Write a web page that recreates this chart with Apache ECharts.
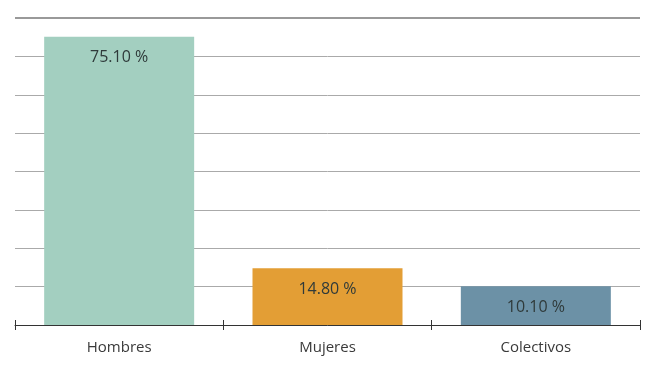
<!DOCTYPE html>
<html>
<head>
<meta charset="utf-8">
<script src="https://cdn.jsdelivr.net/npm/echarts@6/dist/echarts.min.js"></script>
<style>
  html, body { margin: 0; padding: 0; background: #fff; }
  #chart { width: 650px; height: 375px; }
</style>
</head>
<body>
<div id="chart"></div>
<script>
const categories = ['Hombres', 'Mujeres', 'Colectivos']
const values = [75.10, 14.80, 10.10]
const barColors = ['#a3cfc0', '#e39e35', '#6c91a6']

const chart = echarts.init(document.getElementById('chart'))

const option = {
  animation: false,
  grid: { left: 15, right: 10, top: 18, bottom: 50 },
  xAxis: [
    {
      type: 'category',
      data: categories,
      axisLine: { lineStyle: { color: '#333', width: 1 } },
      axisTick: { show: true, length: 5, lineStyle: { color: '#333' } },
      axisLabel: {
        color: '#3a3a3a',
        fontFamily: 'Open Sans',
        fontSize: 15,
        margin: 15
      }
    },
    {
      // kleine Striche nach innen, damit die Ticks das Achsenlinie kreuzen
      type: 'category',
      data: categories,
      position: 'bottom',
      axisLine: { show: false },
      axisTick: { show: true, inside: true, length: 5, lineStyle: { color: '#333' } },
      axisLabel: { show: false }
    }
  ],
  yAxis: {
    type: 'value',
    min: 0,
    max: 80,
    interval: 10,
    axisLine: { show: false },
    axisTick: { show: false },
    axisLabel: { show: false },
    splitLine: { lineStyle: { color: '#aaa', width: 1 } }
  },
  series: [
    {
      type: 'bar',
      data: values.map((v, i) => ({ value: v, itemStyle: { color: barColors[i] } })),
      barWidth: '72%',
      label: {
        show: true,
        position: 'insideTop',
        distance: 13,
        color: '#2f3a3a',
        fontFamily: 'Open Sans',
        fontSize: 16,
        formatter: p => p.value.toFixed(2) + ' %'
      },
      markLine: {
        silent: true,
        symbol: 'none',
        label: { show: false },
        lineStyle: { color: '#999', width: 2, type: 'solid' },
        data: [{ yAxis: 80 }]
      }
    }
  ]
}

chart.setOption(option)
</script>
</body>
</html>
